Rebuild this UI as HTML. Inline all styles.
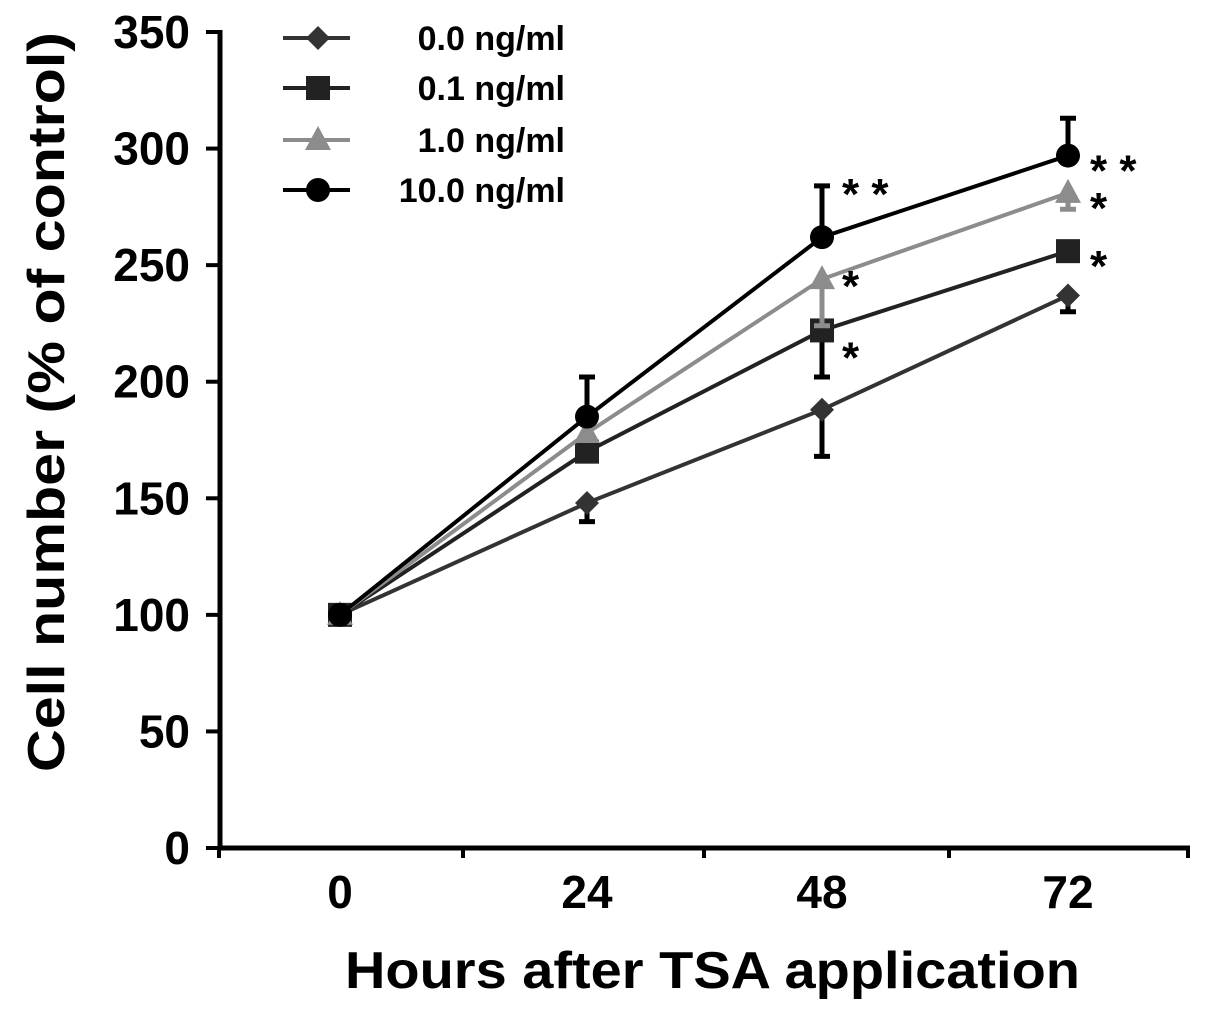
<!DOCTYPE html>
<html><head><meta charset="utf-8"><style>
html,body{margin:0;padding:0;background:#fff}
svg{display:block;font-family:"Liberation Sans",Arial,sans-serif;font-weight:bold}
</style></head><body>
<svg id="c" width="1205" height="1010"></svg>
<script>
const categories=[0,24,48,72];
const seriesNames=["0.0 ng/ml","0.1 ng/ml","1.0 ng/ml","10.0 ng/ml"];
const s00=[100,148,188,237];
const s01=[100,170,222,256];
const s10=[100,178,244,281];
const s100=[100,185,262,297];
const e00=[0,-8,-20,-7];
const e01=[0,0,-20,0];
const e10=[0,0,-20,-7];
const e100=[0,17,22,16];
const yTicks=[0,50,100,150,200,250,300,350];
const stars48=["","*","*","**"];
const stars72=["","*","*","**"];

const NS="http://www.w3.org/2000/svg";
const svg=document.getElementById('c');
function el(t,a,p){const e=document.createElementNS(NS,t);for(const k in a)e.setAttribute(k,a[k]);(p||svg).appendChild(e);return e;}
const xs=[340,587,822,1068];
function X(i){return xs[i];}
function Y(v){return 848-v*(816/350);}
let a=el('line',{x1:220,y1:848,x2:1190,y2:848,stroke:'#000','stroke-width':5});

a=el('line',{x1:220,y1:30,x2:220,y2:850,stroke:'#000','stroke-width':5});

[219,463,704,949,1188].forEach(x=>{const t=el('line',{x1:x,y1:846,x2:x,y2:858,stroke:'#000','stroke-width':4});
});
yTicks.forEach(v=>{const t=el('line',{x1:206,y1:Y(v),x2:222,y2:Y(v),stroke:'#000','stroke-width':4});

const l=el('text',{x:190,y:Y(v)+16,'text-anchor':'end','font-size':46});l.textContent=v;
});
categories.forEach((c,i)=>{const l=el('text',{x:X(i),y:908,'text-anchor':'middle','font-size':46});l.textContent=c;
});
let t=el('text',{x:345,y:988,'font-size':52,textLength:735,lengthAdjust:'spacingAndGlyphs'});t.textContent='Hours after TSA application';

t=el('text',{x:0,y:0,'font-size':52,textLength:740,lengthAdjust:'spacingAndGlyphs',transform:'translate(64,772) rotate(-90)'});t.textContent='Cell number (% of control)';


const series=[s00,s01,s10,s100],errs=[e00,e01,e10,e100];
const colors=['#333','#222','#8c8c8c','#000'];
const shapes=['diamond','square','triangle','circle'];
function marker(g,shape,x,y,c){
 if(shape==='diamond')el('polygon',{points:`${x},${y-12} ${x+12},${y} ${x},${y+12} ${x-12},${y}`,fill:c},g);
 else if(shape==='square')el('rect',{x:x-12,y:y-12,width:24,height:24,fill:c},g);
 else if(shape==='triangle')el('polygon',{points:`${x},${y-14} ${x+13},${y+10} ${x-13},${y+10}`,fill:c},g);
 else el('circle',{cx:x,cy:y,r:12,fill:c},g);
}
const starDy48=[0,42,22,-28];
series.forEach((s,k)=>{
 const g=el('g',{});
 const c=colors[k];
 s.forEach((v,i)=>{const e=errs[k][i];if(e){const e2=el('path',{d:`M${X(i)},${Y(v)}V${Y(v+e)}M${X(i)-8},${Y(v+e)}H${X(i)+8}`,stroke:k==2?'#8c8c8c':'#000','stroke-width':5,fill:'none'},g);
  }});
 el('polyline',{points:s.map((v,i)=>X(i)+','+Y(v)).join(' '),fill:'none',stroke:c,'stroke-width':4},g);
 s.forEach((v,i)=>marker(g,shapes[k],X(i),Y(v),c));
 if(stars48[k]){const l1=el('text',{x:X(2)+20,y:Y(s[2])+starDy48[k],'font-size':44});l1.textContent=stars48[k].split('').join(' ');
 }
 if(stars72[k]){const l2=el('text',{x:X(3)+22,y:Y(s[3])+30,'font-size':44});l2.textContent=stars72[k].split('').join(' ');
 }
});
const ly=[38,88,140,190];
seriesNames.forEach((n,k)=>{const g=el('g',{});
 el('line',{x1:283,y1:ly[k],x2:350,y2:ly[k],stroke:colors[k],'stroke-width':4},g);
 marker(g,shapes[k],318,ly[k],colors[k]);
 const tx=el('text',{x:565,y:ly[k]+12,'text-anchor':'end','font-size':34},g);tx.textContent=n;});
</script>
</body></html>
